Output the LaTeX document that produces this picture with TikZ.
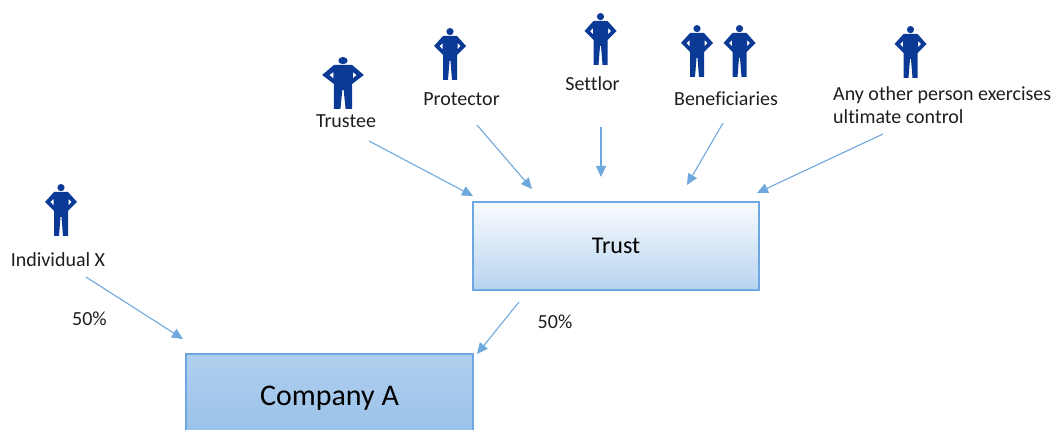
\documentclass[tikz,border=0pt]{standalone}
\usepackage{fontspec}
\setmainfont[Ligatures=NoCommon]{Carlito}
\usetikzlibrary{arrows.meta,positioning}

\definecolor{personblue}{HTML}{0B3A96}
\definecolor{linkblue}{HTML}{6FA8DC}
\definecolor{boxblue}{HTML}{6FA8E0}
\definecolor{textgrey}{HTML}{1E1E1E}

\tikzset{
	link/.style={draw=linkblue, line width=1.1pt, -{Triangle[length=11pt,width=10pt]}},
	label/.style={inner sep=0pt, text=textgrey, font=\fontsize{20}{23}\selectfont},
	box/.style={draw=boxblue, line width=1.3pt, inner sep=0pt, text=black},
	person/.pic={
		\fill [personblue] (0,3.6) circle (3.6);
		\fill [personblue, even odd rule]
			(-7,8) -- (7,8) -- (16,18) -- (7,27) -- (7,52) -- (2,52) -- (0.5,33)
			-- (-0.5,33) -- (-2,52) -- (-7,52) -- (-7,27) -- (-16,18) -- cycle
			(-7.5,15) -- (-10.5,18) -- (-7.5,21.5) -- cycle
			(7.5,15) -- (10.5,18) -- (7.5,21.5) -- cycle;
	}
}

\begin{document}
\begin{tikzpicture}[x=1pt,y=-1pt]
\useasboundingbox (0,0) rectangle (1055,430);

\node(trust)	[box, minimum width=286pt, minimum height=88pt, top color=white!70!boxblue!12, bottom color=boxblue!50, font=\fontsize{24}{28}\selectfont] at (616,246) {Trust};
\begin{scope}
\clip (0,0) rectangle (1055,430);
\node(company)	[box, minimum width=287pt, minimum height=88pt, top color=boxblue!55, bottom color=boxblue!72, font=\fontsize{30}{36}\selectfont] at (329.5,398) {Company A};
\end{scope}

% people
\pic (p_trustee) [xscale=1.3] at (343,57) {person};
\pic (p_protector) at (450,28) {person};
\pic (p_settlor) at (600.5,13) {person};
\pic (p_ben1) at (697,25) {person};
\pic (p_ben2) at (739.5,25) {person};
\pic (p_other) at (910.5,26) {person};
\pic (p_individual) at (61,184) {person};

\node(l_trustee)	[label] at (346,121) {Trustee};
\node(l_protector)	[label] at (461.5,99) {Protector};
\node(l_settlor)	[label] at (592.5,84) {Settlor};
\node(l_ben)	[label] at (726,99) {Beneficiaries};
\node(l_other)	[label, align=left, anchor=west] at (833,105.5) {Any other person exercises\\ultimate control};
\node(l_individual)	[label] at (58,260) {Individual X};
\node(l_share1)	[label] at (89.5,319) {50\%};
\node(l_share2)	[label] at (555,322) {50\%};

\foreach \name/\xa/\ya/\xb/\yb in {
	trustee/369/141/473/196,
	protector/477/125/532/189,
	settlor/601/127/601/177,
	ben/723/123/687/185,
	other/883/134/757/193,
	individual/86/277/183/339,
	trust/519/302/477/354} {
	\coordinate (from_\name) at (\xa,\ya);
	\coordinate (to_\name) at (\xb,\yb);
	\draw [link] (from_\name) -- (to_\name);
}
\end{tikzpicture}
\end{document}
